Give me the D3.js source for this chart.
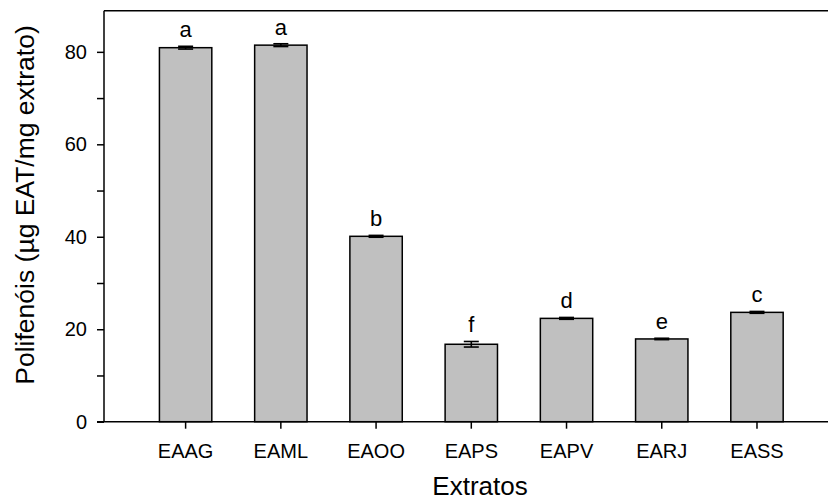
<!DOCTYPE html>
<html>
<head>
<meta charset="utf-8">
<script src="https://cdn.jsdelivr.net/npm/d3@7"></script>
<style>
  body { margin: 0; background: #fff; }
  svg { display: block; font-family: "Liberation Sans", Arial, sans-serif; }
</style>
</head>
<body>
<svg id="chart" width="828" height="501"></svg>
<script>
// data
const categories = ["EAAG", "EAML", "EAOO", "EAPS", "EAPV", "EARJ", "EASS"];
const means = [80.9, 81.45, 40.1, 16.75, 22.35, 17.9, 23.65];
const errors = [0.3, 0.3, 0.2, 0.6, 0.2, 0.15, 0.2];
const letters = ["a", "a", "b", "f", "d", "e", "c"];
const yTicks = [0, 10, 20, 30, 40, 50, 60, 70, 80];

const svg = d3.select("#chart");
const plotLeft = 104, plotRight = 828, plotTop = 10.7, plotBottom = 421.7;

const x = d3.scaleBand()
    .domain(categories)
    .range([138, 804.6])
    .paddingInner(0.45)
    .paddingOuter(0.225);

const y = d3.scaleLinear()
    .domain([0, 88.9])
    .range([plotBottom, plotTop]);

const data = categories.map((c, i) => ({ cat: c, v: means[i], e: errors[i], l: letters[i] }));

// bars
svg.append("g").selectAll("rect")
  .data(data)
  .join("rect")
    .attr("x", d => x(d.cat))
    .attr("y", d => y(d.v))
    .attr("width", x.bandwidth())
    .attr("height", d => y(0) - y(d.v))
    .attr("fill", "#c0c0c0")
    .attr("stroke", "#000")
    .attr("stroke-width", 1.5);

// error bars
const eb = svg.append("g").attr("stroke", "#000").attr("stroke-width", 1.6);
data.forEach(d => {
  const cx = x(d.cat) + x.bandwidth() / 2;
  eb.append("line").attr("x1", cx).attr("x2", cx).attr("y1", y(d.v + d.e)).attr("y2", y(d.v - d.e));
  [d.v + d.e, d.v - d.e].forEach(v => {
    eb.append("line").attr("x1", cx - 7.5).attr("x2", cx + 7.5).attr("y1", y(v)).attr("y2", y(v));
  });
});

// significance letters
svg.append("g").selectAll("text")
  .data(data)
  .join("text")
    .attr("x", d => x(d.cat) + x.bandwidth() / 2)
    .attr("y", d => y(d.v + d.e) - 9)
    .attr("text-anchor", "middle")
    .attr("font-size", 22)
    .text(d => d.l);

// axes
const yAxis = svg.append("g")
    .attr("transform", `translate(${plotLeft},0)`)
    .call(d3.axisLeft(y).tickValues(yTicks).tickSize(7).tickPadding(10)
      .tickFormat(d => d % 20 === 0 ? d : ""));
yAxis.select(".domain").remove();
yAxis.selectAll("text").attr("font-size", 20).attr("font-family", null).attr("fill", "#000");
yAxis.selectAll("line").attr("stroke-width", 1.5);

const xAxis = svg.append("g")
    .attr("transform", `translate(0,${plotBottom})`)
    .call(d3.axisBottom(x).tickSize(7).tickPadding(15));
xAxis.select(".domain").remove();
xAxis.selectAll("text").attr("font-size", 20).attr("font-family", null).attr("fill", "#000");
xAxis.selectAll("line").attr("stroke-width", 1.5);

// frame
const frame = svg.append("g").attr("stroke", "#000").attr("stroke-width", 1.5).attr("fill", "none");
frame.append("line").attr("x1", plotLeft).attr("x2", plotLeft).attr("y1", plotTop).attr("y2", plotBottom);
frame.append("line").attr("x1", plotLeft).attr("x2", plotRight).attr("y1", plotTop).attr("y2", plotTop);
frame.append("line").attr("x1", plotLeft - 7).attr("x2", plotRight).attr("y1", plotBottom).attr("y2", plotBottom);

// titles
svg.append("text")
    .attr("x", 480)
    .attr("y", 495)
    .attr("text-anchor", "middle")
    .attr("font-size", 26)
    .text("Extratos");

svg.append("text")
    .attr("transform", "translate(34,205) rotate(-90)")
    .attr("text-anchor", "middle")
    .attr("font-size", 26.5)
    .text("Polifenóis (µg EAT/mg extrato)");
</script>
</body>
</html>
